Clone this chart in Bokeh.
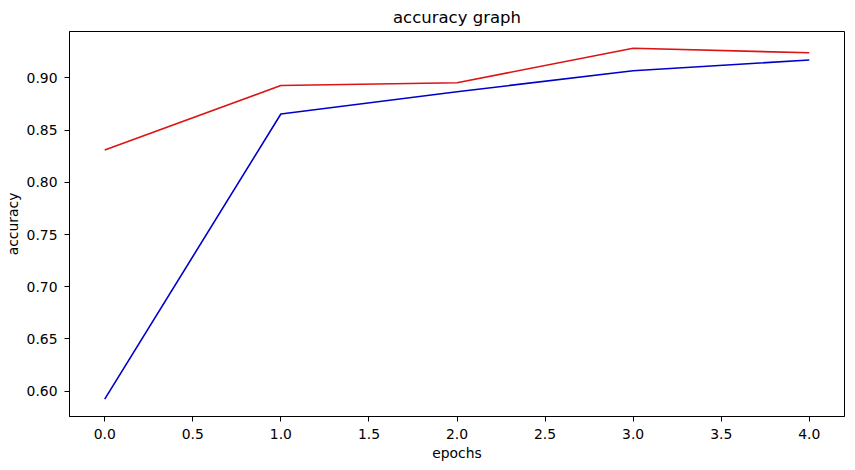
from bokeh.plotting import figure
from bokeh.models import FixedTicker, NumeralTickFormatter, Range1d
from bokeh.embed import file_html
from bokeh.resources import INLINE

epochs = [0, 1, 2, 3, 4]
acc_blue = [0.5925, 0.8653, 0.8866, 0.9068, 0.9170]
acc_red = [0.8309, 0.8926, 0.8952, 0.9283, 0.9239]
x_ticks = [0.0, 0.5, 1.0, 1.5, 2.0, 2.5, 3.0, 3.5, 4.0]
y_ticks = [0.60, 0.65, 0.70, 0.75, 0.80, 0.85, 0.90]

FONT = "DejaVu Sans"

p = figure(frame_width=775, frame_height=385, output_backend="svg", toolbar_location=None,
           title="accuracy graph", x_range=Range1d(-0.2, 4.2), y_range=Range1d(0.5758, 0.9443),
           min_border_left=69, min_border_right=2, min_border_top=0, min_border_bottom=44)

p.line(epochs, acc_blue, line_color="#0000c8", line_width=1.6)
p.line(epochs, acc_red, line_color="#dc1414", line_width=1.6)

p.title.align = "center"
p.title.text_font = FONT
p.title.text_font_size = "16.5px"
p.title.text_font_style = "normal"
p.title.text_color = "black"
p.title.standoff = 10

p.outline_line_color = "black"
p.outline_line_width = 1
p.outline_line_alpha = 1
p.xgrid.visible = False
p.ygrid.visible = False

p.xaxis.axis_label = "epochs"
p.yaxis.axis_label = "accuracy"
p.xaxis.ticker = FixedTicker(ticks=x_ticks)
p.yaxis.ticker = FixedTicker(ticks=y_ticks)
p.xaxis.formatter = NumeralTickFormatter(format="0.0")
p.yaxis.formatter = NumeralTickFormatter(format="0.00")
for ax in (p.xaxis[0], p.yaxis[0]):
    ax.axis_label_text_font = FONT
    ax.axis_label_text_font_size = "13.9px"
    ax.axis_label_text_font_style = "normal"
    ax.major_label_text_font = FONT
    ax.major_label_text_font_size = "13.9px"
    ax.major_label_text_color = "black"
    ax.axis_label_text_color = "black"
    ax.major_tick_in = 0
    ax.major_tick_out = 5
    ax.minor_tick_in = 0
    ax.minor_tick_out = 0
    ax.axis_line_color = "black"
    ax.major_tick_line_color = "black"
    ax.axis_label_standoff = 3
    ax.major_label_standoff = 7
p.yaxis.major_label_orientation = "horizontal"

open("out.html", "w").write(file_html(p, INLINE))
